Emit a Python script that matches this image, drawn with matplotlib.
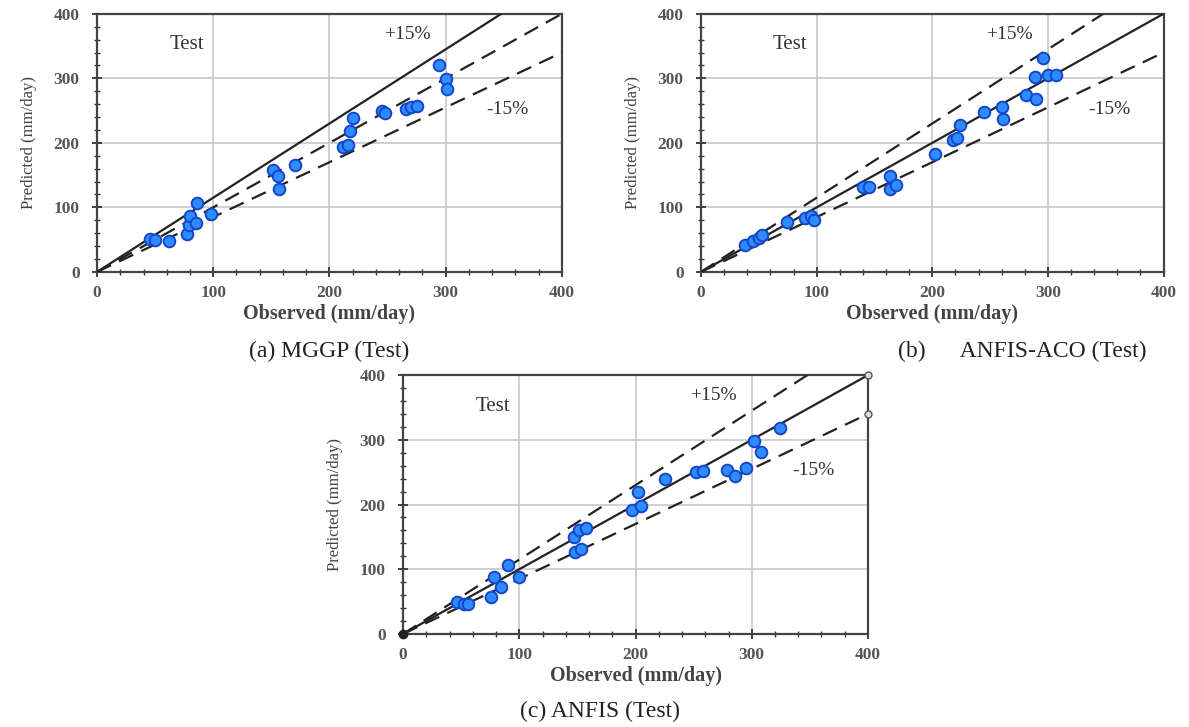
import numpy as np
import matplotlib
matplotlib.use("Agg")
import matplotlib.pyplot as plt
from matplotlib.ticker import MultipleLocator

plt.rcParams['font.family'] = ['Liberation Serif', 'DejaVu Serif']

# observed / predicted values
mggp_obs = [46, 50, 62, 77, 79, 80, 85, 86, 98, 151, 156, 157, 170,
            212, 216, 218, 220, 245, 248, 266, 270, 275, 294, 300, 301]
mggp_pred = [51, 50, 48, 58, 72, 87, 76, 107, 90, 158, 149, 128, 165,
             194, 197, 219, 239, 250, 246, 253, 255, 257, 320, 299, 283]

aco_obs = [38, 45, 50, 53, 74, 90, 95, 98, 140, 145, 163, 163, 169,
           202, 218, 221, 224, 245, 260, 261, 281, 290, 289, 296, 300, 307]
aco_pred = [42, 48, 52, 57, 78, 83, 86, 81, 132, 131, 148, 128, 135,
            182, 205, 208, 228, 248, 255, 237, 274, 268, 302, 331, 305, 305]

anfis_obs = [46, 52, 56, 76, 78, 84, 90, 100, 147, 151, 157, 148, 153,
             197, 205, 202, 225, 252, 258, 279, 286, 295, 302, 308, 324]
anfis_pred = [50, 47, 47, 57, 88, 72, 107, 88, 150, 161, 163, 127, 131,
              192, 197, 219, 239, 251, 252, 253, 244, 256, 298, 281, 319]

captions = ["(a) MGGP (Test)", "(b)      ANFIS-ACO (Test)", "(c) ANFIS (Test)"]

fig = plt.figure(figsize=(11.89, 7.27), dpi=100)
ax_a = fig.add_axes([0.0816, 0.626, 0.391, 0.355])
ax_b = fig.add_axes([0.5896, 0.626, 0.389, 0.355])
ax_c = fig.add_axes([0.339, 0.128, 0.391, 0.356])

xs = np.array([0, 400])


def setup(ax):
    ax.set_xlim(0, 400)
    ax.set_ylim(0, 400)
    ax.xaxis.set_major_locator(MultipleLocator(100))
    ax.yaxis.set_major_locator(MultipleLocator(100))
    ax.xaxis.set_minor_locator(MultipleLocator(20))
    ax.yaxis.set_minor_locator(MultipleLocator(20))
    ax.grid(True, which='major', color='#c8c8c8', lw=1.2)
    ax.set_axisbelow(True)
    ax.tick_params(which='major', direction='inout', length=7, width=1.3,
                   labelsize=12.5, labelcolor='#555555', colors='#333333')
    ax.tick_params(axis='x', which='major', pad=6)
    ax.tick_params(axis='y', which='major', pad=9)
    ax.tick_params(which='minor', direction='inout', length=4, width=1.0, colors='#333333')
    for lab in ax.get_xticklabels() + ax.get_yticklabels():
        lab.set_fontweight('bold')
    for s in ax.spines.values():
        s.set_linewidth(1.6)
        s.set_color('#444444')
    ax.set_xlabel("Observed (mm/day)", fontsize=14.5, fontweight='bold',
                  color='#444444', labelpad=2)
    ax.set_ylabel("Predicted (mm/day)", fontsize=12, color='#444444',
                  labelpad=12)


def draw_points(ax, obs, pred):
    ax.scatter(obs, pred, s=70, c='#2f8cff', edgecolors='#1446c8',
               linewidths=1.4, zorder=5)


dash = (0, (7, 4))

# (a): solid line is +15%, dashed are 1:1 and -15%
setup(ax_a)
ax_a.plot(xs, xs * 1.15, color='#222222', lw=1.6, zorder=3)
ax_a.plot(xs, xs, color='#222222', lw=1.6, ls=dash, zorder=3)
ax_a.plot(xs, xs * 0.85, color='#222222', lw=1.6, ls=dash, zorder=3)
draw_points(ax_a, mggp_obs, mggp_pred)

# (b)
setup(ax_b)
ax_b.plot(xs, xs * 1.15, color='#222222', lw=1.6, ls=dash, zorder=3)
ax_b.plot(xs, xs, color='#222222', lw=1.6, zorder=3)
ax_b.plot(xs, xs * 0.85, color='#222222', lw=1.6, ls=dash, zorder=3)
draw_points(ax_b, aco_obs, aco_pred)

# (c)
setup(ax_c)
ax_c.plot(xs, xs * 1.15, color='#222222', lw=1.6, ls=dash, zorder=3)
ax_c.plot(xs, xs, color='#222222', lw=1.6, zorder=3)
ax_c.plot(xs, xs * 0.85, color='#222222', lw=1.6, ls=dash, zorder=3)
ax_c.plot([400, 400], [400, 340], ls='none', marker='o', ms=5,
          mfc='#dddddd', mec='#555555', clip_on=False, zorder=6)
ax_c.plot([0], [0], ls='none', marker='o', ms=6, color='#222222',
          clip_on=False, zorder=6)
draw_points(ax_c, anfis_obs, anfis_pred)

for ax in [ax_a, ax_b, ax_c]:
    ax.text(77, 352, "Test", fontsize=15, color='#333333', ha='center', va='center')
    ax.text(267, 368, "+15%", fontsize=14, color='#333333', ha='center', va='center')
    ax.text(353, 252, "-15%", fontsize=14, color='#333333', ha='center', va='center')

fig.text(0.277, 0.516, captions[0], fontsize=17, color='#222222', ha='center', va='center')
fig.text(0.86, 0.516, captions[1], fontsize=17, color='#222222', ha='center', va='center')
fig.text(0.505, 0.022, captions[2], fontsize=17, color='#222222', ha='center', va='center')

fig.savefig("out.png", dpi=100)
